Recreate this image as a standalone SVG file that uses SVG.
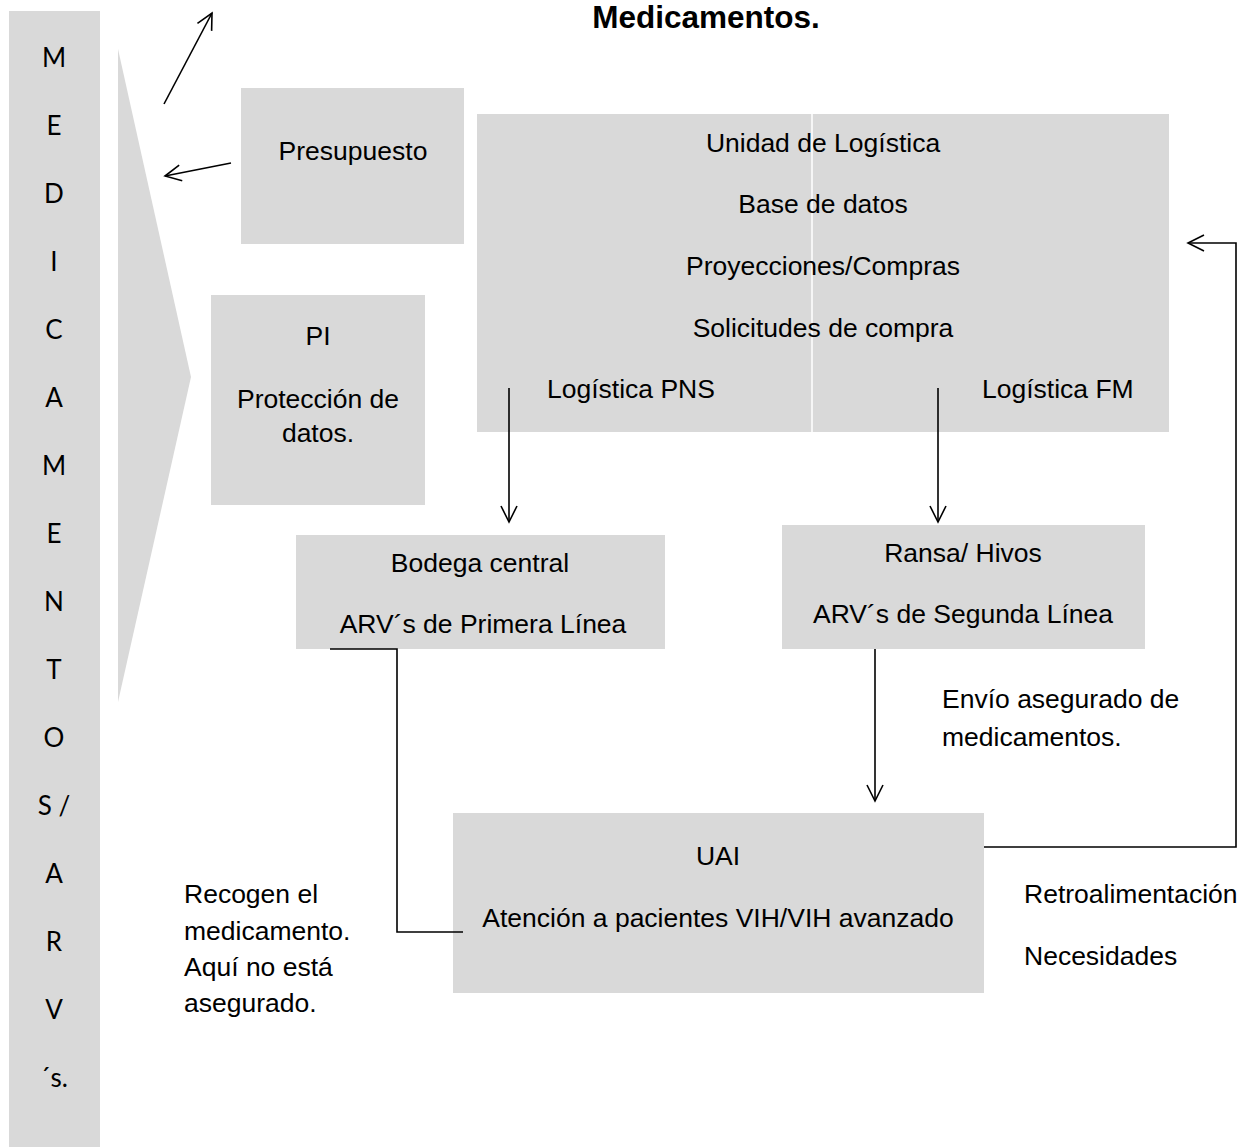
<svg xmlns="http://www.w3.org/2000/svg" width="1241" height="1147" viewBox="0 0 1241 1147">
<style>
.box{fill:#d9d9d9}
.t{font-family:"Liberation Sans",Arial,sans-serif;font-size:26.5px;fill:#000}
.c{text-anchor:middle}
.v{font-family:Lato,"Open Sans",sans-serif;font-size:26px;fill:#000;text-anchor:middle}
.ln{fill:none;stroke:#000;stroke-width:1.6}
</style>
<defs>
<marker id="ah" viewBox="0 0 20 20" refX="18" refY="10" markerWidth="20" markerHeight="20" markerUnits="userSpaceOnUse" orient="auto">
<path d="M2,2 L18,10 L2,18" fill="none" stroke="#000" stroke-width="1.6"/>
</marker>
</defs>
<rect width="1241" height="1147" fill="#fff"/>
<g id="bar">
<rect class="box" x="9" y="11" width="91" height="1136"/>
<text class="v" x="54" y="67">M</text>
<text class="v" x="54" y="135">E</text>
<text class="v" x="54" y="203">D</text>
<text class="v" x="54" y="271">I</text>
<text class="v" x="54" y="339">C</text>
<text class="v" x="54" y="407">A</text>
<text class="v" x="54" y="475">M</text>
<text class="v" x="54" y="543">E</text>
<text class="v" x="54" y="611">N</text>
<text class="v" x="54" y="679">T</text>
<text class="v" x="54" y="747">O</text>
<text class="v" x="54" y="815">S /</text>
<text class="v" x="54" y="883">A</text>
<text class="v" x="54" y="951">R</text>
<text class="v" x="54" y="1019">V</text>
<text class="v" x="54" y="1087">´s.</text>
</g>
<g id="chevron"><polygon class="box" points="118,49 191,377 118,702"/></g>
<text id="title" x="706" y="28" font-family="'Liberation Sans',Arial,sans-serif" font-size="31.5" font-weight="bold" text-anchor="middle">Medicamentos.</text>
<g id="presupuesto">
<rect class="box" x="241" y="88" width="223" height="156"/>
<text class="t c" x="353" y="160">Presupuesto</text>
</g>
<g id="pi">
<rect class="box" x="211" y="295" width="214" height="210"/>
<text class="t c" x="318" y="345">PI</text>
<text class="t c" x="318" y="408">Protección de</text>
<text class="t c" x="318" y="442">datos.</text>
</g>
<g id="logistica">
<rect class="box" x="477" y="114" width="692" height="318"/>
<line x1="812" y1="114" x2="812" y2="432" stroke="#fff" stroke-width="1.5"/>
<text class="t c" x="823" y="152">Unidad de Logística</text>
<text class="t c" x="823" y="213">Base de datos</text>
<text class="t c" x="823" y="275">Proyecciones/Compras</text>
<text class="t c" x="823" y="337">Solicitudes de compra</text>
<text class="t" x="547" y="398">Logística PNS</text>
<text class="t" x="982" y="398">Logística FM</text>
</g>
<g id="bodega">
<rect class="box" x="296" y="535" width="369" height="114"/>
<text class="t c" x="480" y="572">Bodega central</text>
<text class="t c" x="483" y="633">ARV´s de Primera Línea</text>
</g>
<g id="ransa">
<rect class="box" x="782" y="525" width="363" height="124"/>
<text class="t c" x="963" y="562">Ransa/ Hivos</text>
<text class="t c" x="963" y="623">ARV´s de Segunda Línea</text>
</g>
<g id="uai">
<rect class="box" x="453" y="813" width="531" height="180"/>
<text class="t c" x="718" y="865">UAI</text>
<text class="t c" x="718" y="927">Atención a pacientes VIH/VIH avanzado</text>
</g>
<g id="labels">
<text class="t" x="942" y="708">Envío asegurado de</text>
<text class="t" x="942" y="746">medicamentos.</text>
<text class="t" x="184" y="903">Recogen el</text>
<text class="t" x="184" y="940">medicamento.</text>
<text class="t" x="184" y="976">Aquí no está</text>
<text class="t" x="184" y="1012">asegurado.</text>
<text class="t" x="1024" y="903">Retroalimentación</text>
<text class="t" x="1024" y="965">Necesidades</text>
</g>
<g id="connectors">
<line class="ln" x1="164" y1="104" x2="212" y2="13" marker-end="url(#ah)"/>
<line class="ln" x1="231" y1="163" x2="165" y2="176" marker-end="url(#ah)"/>
<line class="ln" x1="509" y1="388" x2="509" y2="522" marker-end="url(#ah)"/>
<line class="ln" x1="938" y1="388" x2="938" y2="522" marker-end="url(#ah)"/>
<line class="ln" x1="875" y1="649" x2="875" y2="801" marker-end="url(#ah)"/>
<polyline class="ln" points="330,649 397,649 397,932 463,932"/>
<polyline class="ln" points="984,847 1236,847 1236,243 1188,243" marker-end="url(#ah)"/>
</g>
</svg>
